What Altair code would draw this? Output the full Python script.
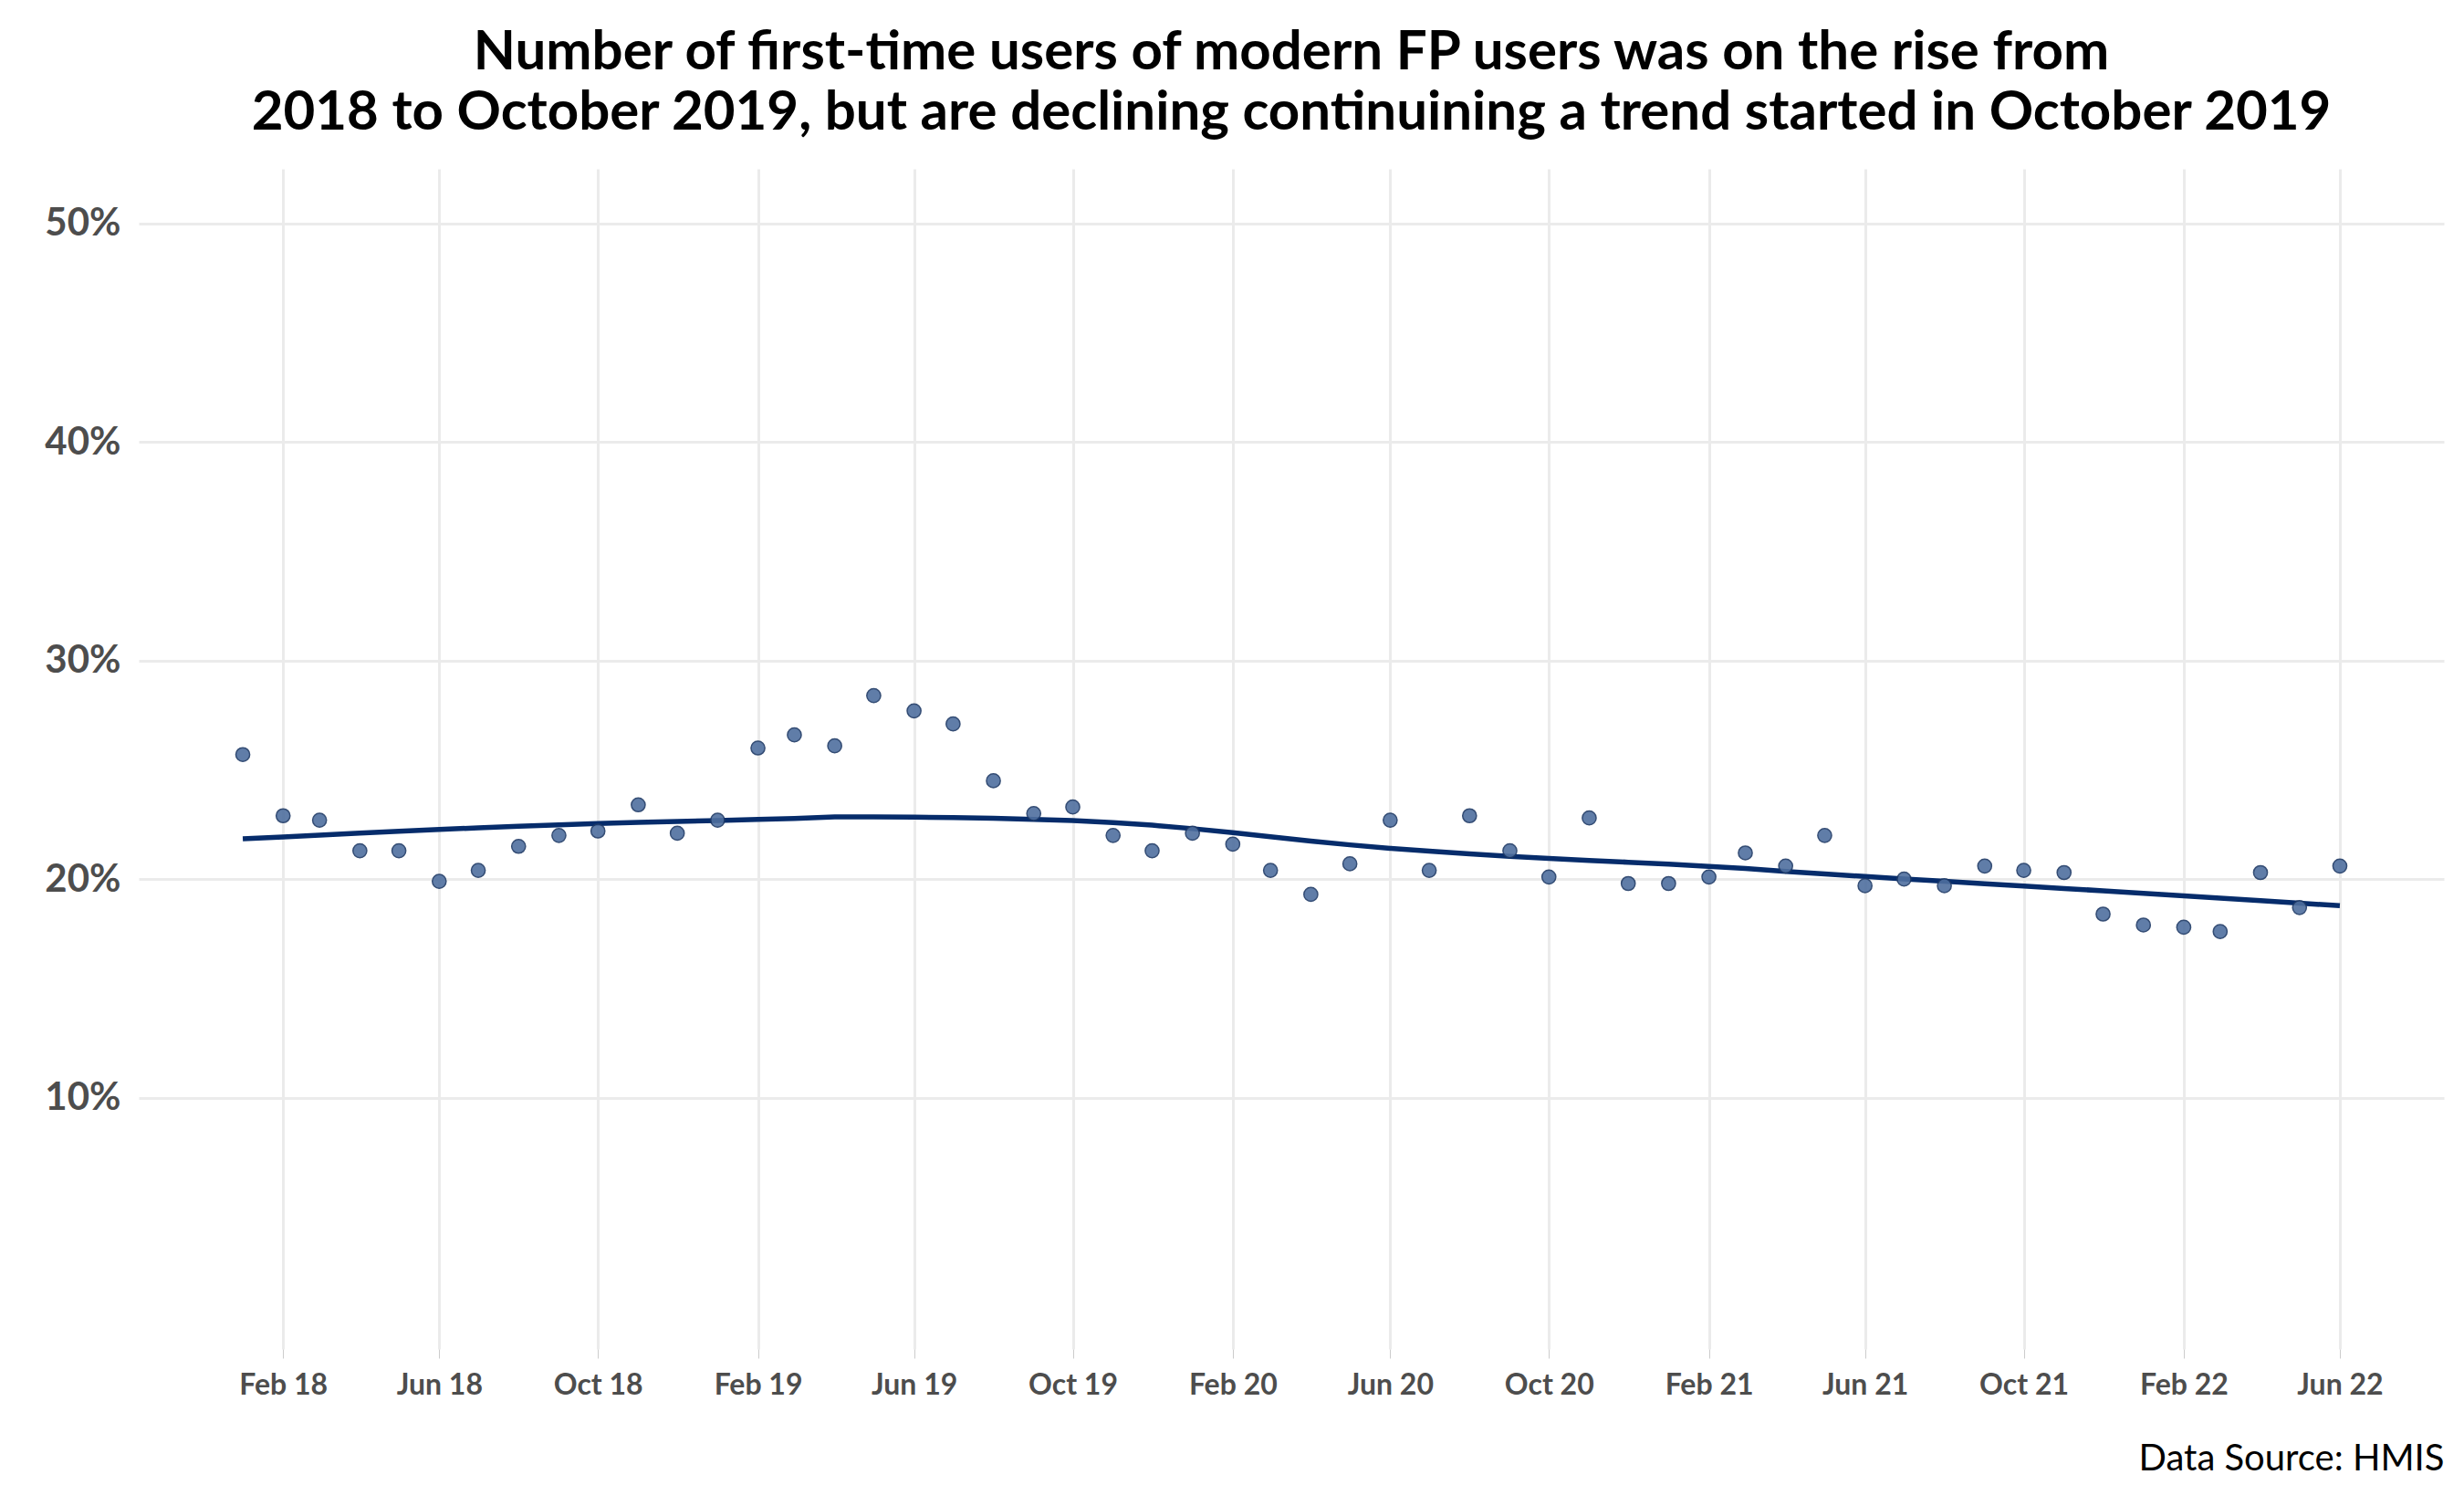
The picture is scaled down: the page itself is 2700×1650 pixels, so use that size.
import altair as alt
import pandas as pd

months = pd.date_range("2018-01-01", "2022-06-01", freq="MS").strftime("%Y-%m-%d").tolist()
values = [25.7, 22.9, 22.7, 21.3, 21.3, 19.9, 20.4, 21.5, 22.0, 22.2, 23.4, 22.1,
          22.7, 26.0, 26.6, 26.1, 28.4, 27.7, 27.1, 24.5, 23.0, 23.3, 22.0, 21.3,
          22.1, 21.6, 20.4, 19.3, 20.7, 22.7, 20.4, 22.9, 21.3, 20.1, 22.8, 19.8,
          19.8, 20.1, 21.2, 20.6, 22.0, 19.7, 20.0, 19.7, 20.6, 20.4, 20.3, 18.4,
          17.9, 17.8, 17.6, 20.3, 18.7, 20.6]
tick_dates = ["2018-02-01", "2018-06-01", "2018-10-01", "2019-02-01", "2019-06-01", "2019-10-01",
              "2020-02-01", "2020-06-01", "2020-10-01", "2021-02-01", "2021-06-01", "2021-10-01",
              "2022-02-01", "2022-06-01"]
y_ticks = [10, 20, 30, 40, 50]

df = pd.DataFrame({"date": pd.to_datetime(months), "value": values})
FONT = "Lato"

x = alt.X("date:T", scale=alt.Scale(domain=["2017-10-13", "2022-08-20"]),
          axis=alt.Axis(values=[pd.Timestamp(d).isoformat() for d in tick_dates], format="%b %y",
                        title="Data Source: HMIS", titleAnchor="end", titleFontWeight="normal",
                        titleFontSize=40, titleColor="black", titlePadding=45, titleFont=FONT,
                        labelFont=FONT, labelFontSize=32, labelFontWeight="bold", labelColor="#4d4d4d",
                        labelPadding=14, domain=False, ticks=True, tickColor="#cccccc", tickSize=10,
                        grid=True, gridColor="#ebebeb", gridWidth=3))
y = alt.Y("value:Q", scale=alt.Scale(domain=[-1.5, 52.5], nice=False),
          axis=alt.Axis(values=y_ticks, labelExpr="datum.value + '%'", title=None,
                        labelFont=FONT, labelFontSize=42, labelFontWeight="bold", labelColor="#4d4d4d",
                        labelPadding=20, domain=False, ticks=False, grid=True, gridColor="#ebebeb", gridWidth=3))

base = alt.Chart(df)
pts = base.mark_circle(size=230, color="#4f6f9f", opacity=0.9, stroke="#1f3a66", strokeWidth=1.5).encode(x=x, y=y)
line = base.transform_loess("date", "value", bandwidth=0.6).mark_line(color="#062c6b", strokeWidth=5.5).encode(x=x, y=y)

chart = alt.layer(line, pts).properties(
    width=2680, height=1620,
    padding={"left": 40, "right": 10, "top": 20, "bottom": 10},
    autosize=alt.AutoSizeParams(type="fit", contains="padding"),
    title=alt.Title(["Number of first-time users of modern FP users was on the rise from",
                     "2018 to October 2019, but are declining continuining a trend started in October 2019"],
                    font=FONT, fontSize=60, fontWeight="bold", color="black", anchor="middle",
                    lineHeight=66, offset=30),
).configure_view(stroke=None)

chart.save("out.html", embed_options={"renderer": "svg", "actions": False})
